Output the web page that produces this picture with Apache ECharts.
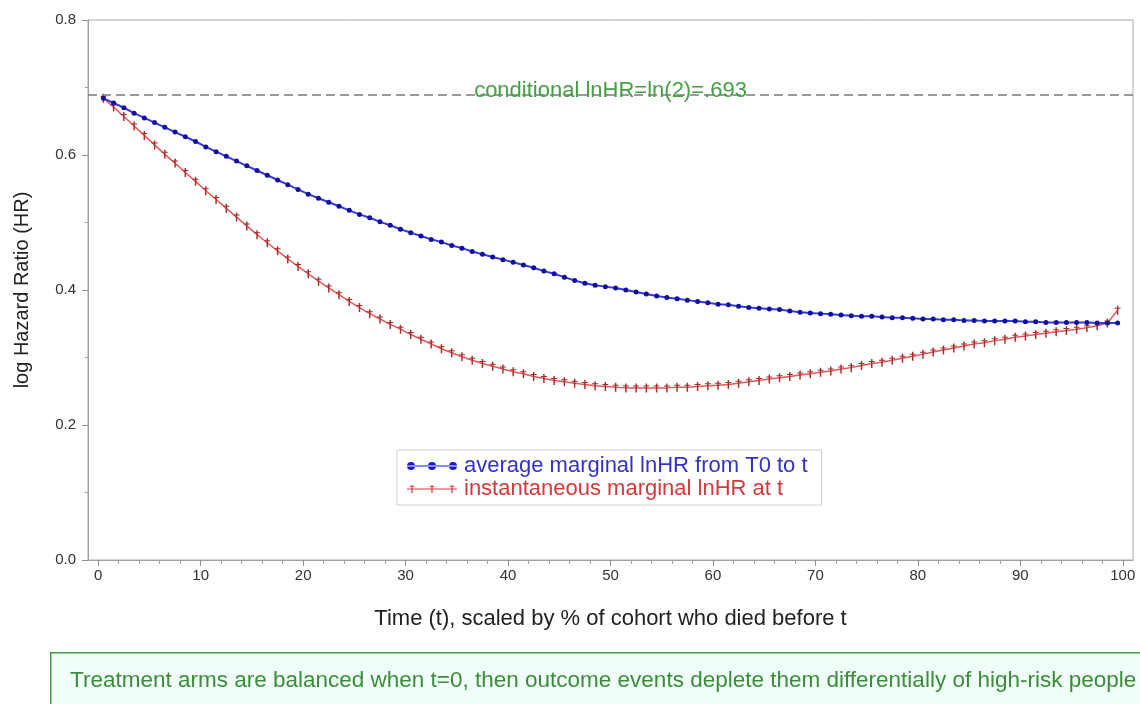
<!DOCTYPE html>
<html>
<head>
<meta charset="utf-8">
<script src="https://cdn.jsdelivr.net/npm/echarts@6/dist/echarts.min.js"></script>
<style>html,body{margin:0;padding:0;background:#fff}#c{width:1140px;height:704px}</style>
</head>
<body>
<div id="c"></div>
<script>
const timePoints = [0.5,1.5,2.5,3.5,4.5,5.5,6.5,7.5,8.5,9.5,10.5,11.5,12.5,13.5,14.5,15.5,16.5,17.5,18.5,19.5,20.5,21.5,22.5,23.5,24.5,25.5,26.5,27.5,28.5,29.5,30.5,31.5,32.5,33.5,34.5,35.5,36.5,37.5,38.5,39.5,40.5,41.5,42.5,43.5,44.5,45.5,46.5,47.5,48.5,49.5,50.5,51.5,52.5,53.5,54.5,55.5,56.5,57.5,58.5,59.5,60.5,61.5,62.5,63.5,64.5,65.5,66.5,67.5,68.5,69.5,70.5,71.5,72.5,73.5,74.5,75.5,76.5,77.5,78.5,79.5,80.5,81.5,82.5,83.5,84.5,85.5,86.5,87.5,88.5,89.5,90.5,91.5,92.5,93.5,94.5,95.5,96.5,97.5,98.5,99.5];
const avgMarginal = [0.684,0.677,0.670,0.662,0.655,0.648,0.641,0.634,0.627,0.620,0.612,0.605,0.598,0.591,0.584,0.577,0.570,0.563,0.556,0.549,0.542,0.536,0.530,0.524,0.518,0.512,0.507,0.501,0.496,0.490,0.485,0.480,0.475,0.471,0.466,0.462,0.457,0.453,0.449,0.445,0.441,0.437,0.433,0.428,0.424,0.419,0.414,0.410,0.407,0.405,0.403,0.400,0.397,0.394,0.391,0.389,0.387,0.385,0.383,0.381,0.379,0.378,0.376,0.374,0.373,0.372,0.371,0.369,0.367,0.366,0.365,0.364,0.363,0.362,0.361,0.361,0.360,0.359,0.359,0.358,0.357,0.357,0.356,0.356,0.355,0.355,0.354,0.354,0.354,0.354,0.353,0.353,0.352,0.352,0.352,0.352,0.352,0.351,0.351,0.351];
const instMarginal = [0.684,0.671,0.657,0.643,0.629,0.615,0.601,0.588,0.574,0.561,0.547,0.534,0.521,0.508,0.495,0.482,0.470,0.458,0.446,0.435,0.424,0.413,0.403,0.393,0.383,0.374,0.365,0.357,0.349,0.342,0.334,0.327,0.320,0.313,0.307,0.301,0.296,0.291,0.287,0.283,0.279,0.276,0.272,0.269,0.266,0.264,0.262,0.260,0.258,0.257,0.256,0.255,0.255,0.255,0.255,0.255,0.256,0.256,0.257,0.258,0.259,0.260,0.262,0.264,0.266,0.268,0.270,0.272,0.274,0.276,0.278,0.280,0.283,0.285,0.288,0.291,0.293,0.296,0.299,0.302,0.305,0.308,0.311,0.314,0.317,0.320,0.322,0.325,0.327,0.330,0.332,0.334,0.336,0.338,0.340,0.342,0.344,0.347,0.351,0.370];
const conditionalLnHR = 0.693;
const xMajorTicks = [0,10,20,30,40,50,60,70,80,90,100];
const xMinorTicks = [2,4,6,8,12,14,16,18,22,24,26,28,32,34,36,38,42,44,46,48,52,54,56,58,62,64,66,68,72,74,76,78,82,84,86,88,92,94,96,98];
const seriesNames = ['average marginal lnHR from T0 to t', 'instantaneous marginal lnHR at t'];
const refLabel = 'conditional lnHR=ln(2)=.693';
const noteText = 'Treatment arms are balanced when t=0, then outcome events deplete them differentially of high-risk people';

const FONT = 'Liberation Sans';
const blueIcon = 'path://M0,3.4L50,3.4L50,4.6L0,4.6Z M0,4A4,4 0 1,0 8,4A4,4 0 1,0 0,4Z M21,4A4,4 0 1,0 29,4A4,4 0 1,0 21,4Z M42,4A4,4 0 1,0 50,4A4,4 0 1,0 42,4Z';
const redIcon = 'path://M0,3.5L50,3.5L50,4.5L0,4.5Z M4.4,0L5.6,0L5.6,8L4.4,8Z M2.5,1.2L7.5,1.2L7.5,2.1L2.5,2.1Z M24.4,0L25.6,0L25.6,8L24.4,8Z M22.5,1.2L27.5,1.2L27.5,2.1L22.5,2.1Z M44.4,0L45.6,0L45.6,8L44.4,8Z M42.5,1.2L47.5,1.2L47.5,2.1L42.5,2.1Z';
const redMark = 'path://M2.4,0L3.6,0L3.6,9L2.4,9Z M0.5,2L5.5,2L5.5,3L0.5,3Z';

const chart = echarts.init(document.getElementById('c'), null, {renderer: 'canvas'});
chart.setOption({
  animation: false,
  textStyle: {fontFamily: FONT},
  grid: {left: 88, top: 20, right: 7, bottom: 144, show: true, borderColor: '#a8a8a8', borderWidth: 1, backgroundColor: 'transparent'},
  legend: {
    orient: 'vertical', left: 397, top: 450,
    padding: [5, 14, 5, 10], itemGap: 1,
    itemWidth: 50, itemHeight: 8,
    borderColor: '#cfcfcf', borderWidth: 1, backgroundColor: '#fff',
    selectedMode: false,
    data: [
      {name: seriesNames[0], icon: blueIcon, itemStyle: {color: '#1a1ad0'}, textStyle: {color: '#3232c8'}},
      {name: seriesNames[1], icon: redIcon, itemStyle: {color: '#d83838'}, textStyle: {color: '#d23a3a'}}
    ],
    textStyle: {fontSize: 22, fontFamily: FONT, padding: [0, 0, 0, 2]}
  },
  xAxis: [{
    type: 'value', min: -1, max: 101,
    name: 'Time (t), scaled by % of cohort who died before t',
    nameLocation: 'middle', nameGap: 48,
    nameTextStyle: {fontSize: 22, color: '#222', fontFamily: FONT},
    axisLine: {show: true, onZero: false, lineStyle: {color: '#a0a0a0'}},
    axisTick: {show: true, customValues: xMajorTicks, length: 6, lineStyle: {color: '#909090'}},
    axisLabel: {customValues: xMajorTicks, fontSize: 15, color: '#333', margin: 8, fontFamily: FONT},
    splitLine: {show: false}
  }, {
    type: 'value', min: -1, max: 101, position: 'bottom',
    axisLine: {show: false, onZero: false},
    axisTick: {show: true, customValues: xMinorTicks, length: 4, lineStyle: {color: '#a0a0a0'}},
    axisLabel: {show: false},
    splitLine: {show: false}
  }],
  yAxis: {
    type: 'value', min: 0, max: 0.8, interval: 0.2,
    name: 'log Hazard Ratio (HR)',
    nameLocation: 'middle', nameGap: 56,
    nameTextStyle: {fontSize: 20, color: '#222', fontFamily: FONT},
    axisLine: {show: true, onZero: false, lineStyle: {color: '#a0a0a0'}},
    axisTick: {show: true, length: 6, lineStyle: {color: '#909090'}},
    minorTick: {show: true, splitNumber: 2, length: 3, lineStyle: {color: '#a0a0a0'}},
    axisLabel: {fontSize: 15, color: '#333', margin: 12, fontFamily: FONT, formatter: v => v.toFixed(1)},
    splitLine: {show: false}
  },
  series: [{
    name: seriesNames[0], type: 'line', xAxisIndex: 0,
    data: timePoints.map((t, i) => [t, avgMarginal[i]]),
    symbol: 'circle', symbolSize: 5, showAllSymbol: true,
    lineStyle: {color: '#3a3ad8', width: 2},
    itemStyle: {color: '#10109a'},
    z: 3,
    markLine: {
      silent: true, symbol: 'none',
      lineStyle: {color: '#7a7a7a', type: [9, 5], width: 1.5},
      label: {show: true, position: 'middle', formatter: refLabel, color: '#45a045', fontSize: 22, fontFamily: FONT, distance: -8},
      data: [{yAxis: conditionalLnHR}]
    }
  }, {
    name: seriesNames[1], type: 'line', xAxisIndex: 0,
    data: timePoints.map((t, i) => [t, instMarginal[i]]),
    symbol: redMark, symbolSize: [6, 9], showAllSymbol: true,
    lineStyle: {color: '#e05a5a', width: 1.5},
    itemStyle: {color: '#a82a2a'},
    z: 2
  }],
  graphic: [{
    type: 'rect', left: 50, top: 652, z: 10,
    shape: {width: 1120, height: 70},
    style: {fill: '#f0fff7', stroke: '#4a9a4a', lineWidth: 1.5}
  }, {
    type: 'text', left: 70, top: 669, z: 11,
    style: {text: noteText, fill: '#3c8c3c', font: '22.5px "Liberation Sans"'}
  }]
});
</script>
</body>
</html>
